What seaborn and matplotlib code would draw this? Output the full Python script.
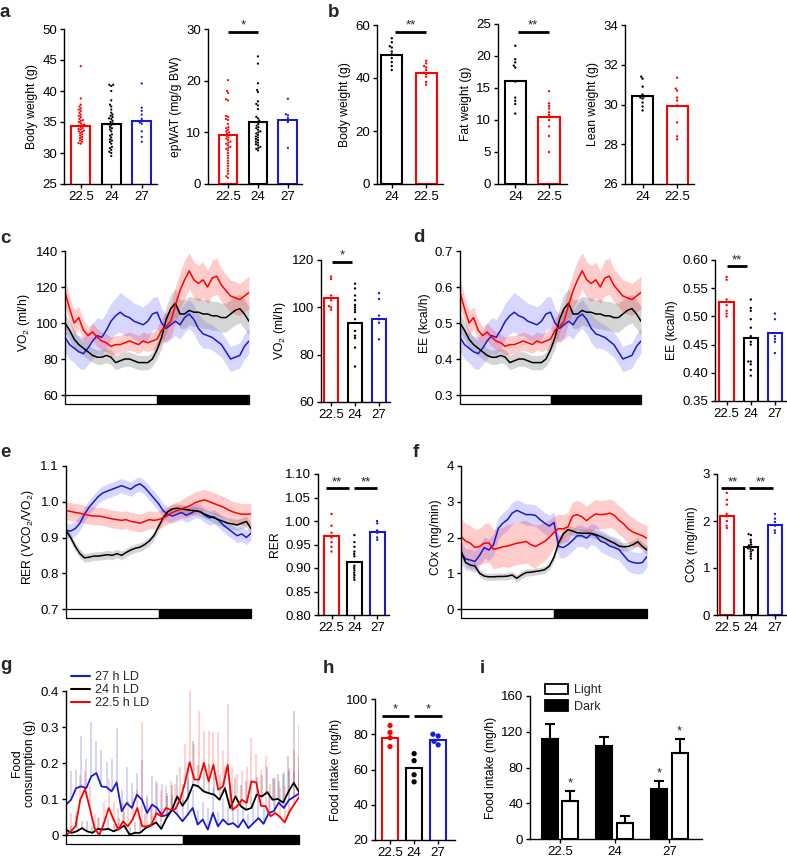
import numpy as np
import pandas as pd
import matplotlib
matplotlib.use('Agg')
import matplotlib.pyplot as plt
import seaborn as sns
from matplotlib.patches import Rectangle, Patch
from matplotlib.lines import Line2D

sns.set_theme(style='ticks')
plt.rcParams['font.family'] = ['Liberation Sans', 'DejaVu Sans']
plt.rcParams.update({'axes.linewidth': 1.0, 'xtick.major.width': 1.0, 'ytick.major.width': 1.0,
                     'xtick.major.size': 3, 'ytick.major.size': 3, 'axes.edgecolor': 'black',
                     'xtick.color': 'black', 'ytick.color': 'black', 'mathtext.default': 'regular',
                     'axes.labelcolor': 'black'})

# ---------------- data ----------------
RED = '#ff0000'; BLK = '#000000'; BLU = '#1a1ad0'
COLORS = {'22.5': RED, '24': BLK, '27': BLU}
cats3 = ['22.5', '24', '27']
cats_b = ['24', '22.5']

# a
bw_means = [34.3, 34.6, 35.1]
bw_red = [44, 38.8, 37.8, 37.5, 37.2, 37, 36.8, 36.2, 36, 35.8, 35.5, 35.2, 35, 34.8, 34.6, 34.4, 34.2, 34,
          33.8, 33.6, 33.4, 33.2, 33, 32.8, 32.6, 32.4, 32.2, 32, 31.8, 31.6, 31.5, 35.3, 34.5, 33.5, 36.5, 33.9]
bw_black = [41, 41, 40.8, 40, 38.5, 37.8, 37.5, 37, 36.5, 36.2, 36, 35.8, 35.5, 35.2, 35, 34.8, 34.5, 34.2, 34,
            33.8, 33.5, 33, 32.8, 32.5, 32.2, 32, 31.8, 31.5, 31, 30.8, 30.5, 30.2, 30, 29.5, 34.6, 35.6]
bw_blue = [41.2, 37.3, 36.8, 36.2, 35.5, 35.1, 34.9, 34.7, 33.5, 32.6, 31.8]

ep_means = [9.5, 12.0, 12.4]
ep_red = [20.1, 18, 17.6, 16.4, 16.2, 13.2, 13, 12.6, 12.4, 11.6, 11, 10.8, 10.5, 10.2, 10, 9.8, 9.5, 9.3, 9,
          8.8, 8.5, 8.2, 8, 7.8, 7.5, 7.2, 7, 6.8, 6.5, 6, 5.5, 5, 4.5, 4, 3.5, 3, 2.5, 2, 1.5, 1.2]
ep_black = [24.7, 23.3, 19.5, 18.2, 17.8, 16, 15.5, 15.2, 14.5, 13, 12.7, 12.3, 12, 11.6, 11.3, 11, 10.8, 10.5,
            10.2, 10, 9.8, 9.5, 9.2, 9, 8.7, 8.5, 8.2, 8, 7.7, 7.5, 7.2, 7, 6.8, 6.5]
ep_blue = [16.5, 13.5, 13.3, 12.8, 12, 7]

# b (order 24, 22.5)
bbw_means = [48.5, 42.0]
bbw_black = [55, 53.5, 52, 51.5, 50, 49, 47.5, 46, 44.5, 43]
bbw_red = [46.5, 45.5, 44.5, 44, 43, 42, 41.5, 40.5, 38.5, 37.5]
fat_means = [16.1, 10.4]
fat_black = [21.6, 19.5, 19, 18.5, 18.2, 16, 13.5, 13, 12.5, 11]
fat_red = [14.5, 12.6, 12.2, 11.8, 11.2, 10.8, 10, 9, 7.5, 5]
lean_means = [30.45, 29.9]
lean_black = [31.4, 31.3, 30.9, 30.5, 30.4, 30.35, 30.3, 30.1, 29.9, 29.7]
lean_red = [31.35, 30.8, 30.7, 30.35, 30.2, 29.95, 29.1, 28.4, 28.25]

# c-f bar panels
vo2_means = [104, 93.5, 95.2]
vo2_red = [113, 112, 105, 103, 100.5, 100, 99]
vo2_black = [110, 108, 105, 103, 101, 100, 99, 98, 95, 90, 88, 87, 83, 75]
vo2_blue = [106, 103.5, 96.5, 95, 93.5, 86.5]
ee_means = [0.525, 0.462, 0.470]
ee_red = [0.57, 0.565, 0.53, 0.52, 0.51, 0.505, 0.50]
ee_black = [0.53, 0.515, 0.51, 0.495, 0.48, 0.465, 0.455, 0.45, 0.42, 0.42, 0.415, 0.405, 0.395]
ee_blue = [0.505, 0.495, 0.465, 0.46, 0.455, 0.435]
rer_means = [0.968, 0.912, 0.977]
rer_red = [1.015, 0.99, 0.975, 0.965, 0.955, 0.945, 0.935]
rer_black = [0.97, 0.955, 0.945, 0.935, 0.93, 0.925, 0.905, 0.90, 0.895, 0.89, 0.885, 0.88, 0.875]
rer_blue = [1.0, 0.995, 0.98, 0.975, 0.965, 0.96]
cox_means = [2.1, 1.45, 1.92]
cox_red = [2.6, 2.45, 2.35, 2.15, 2.1, 2.0, 1.9, 1.85]
cox_black = [1.72, 1.7, 1.6, 1.55, 1.5, 1.48, 1.45, 1.42, 1.4, 1.38, 1.35, 1.3, 1.25, 1.2]
cox_blue = [2.15, 2.05, 1.98, 1.9, 1.8, 1.75]

# time series (one LD cycle)
VO2_red = [117, 108, 100, 103, 96, 93, 95, 92, 90, 89, 87, 88, 88, 89, 90, 89, 88, 90, 89, 90,
           91, 96, 98, 101, 110, 118, 124, 129, 124, 122, 124, 120, 125, 126, 121, 118, 115, 114, 113, 115, 117]
VO2_red_sem = [8, 7, 7, 6, 6, 5, 5, 5, 5, 5, 5, 5, 5, 5, 5, 5, 5, 5, 5, 5,
               6, 7, 8, 9, 10, 10, 11, 10, 10, 10, 10, 9, 10, 10, 9, 9, 9, 9, 9, 9, 9]
VO2_black = [100, 96, 91, 88, 86, 84, 82, 81, 81, 82, 81, 78, 79, 80, 80, 79, 78, 78, 78, 80,
             85, 92, 102, 108, 111, 105, 105, 107, 106, 106, 105, 105, 104, 104, 103, 103, 105, 107, 108, 105, 101]
VO2_black_sem = [5, 5, 5, 4, 4, 4, 4, 4, 4, 4, 4, 4, 4, 4, 4, 4, 4, 4, 4, 4,
                 5, 6, 7, 8, 8, 8, 8, 8, 8, 8, 8, 8, 8, 8, 8, 8, 8, 8, 8, 8, 8]
VO2_blue = [92, 88, 86, 84, 83, 86, 90, 93, 92, 96, 101, 104, 106, 104, 103, 101, 100, 99, 101, 105,
            106, 100, 97, 99, 101, 99, 103, 105, 102, 97, 94, 93, 92, 90, 88, 84, 80, 81, 82, 87, 90]
VO2_blue_sem = [8, 8, 8, 9, 9, 9, 10, 10, 10, 10, 10, 10, 11, 11, 10, 10, 10, 10, 10, 9,
                9, 8, 8, 8, 8, 8, 8, 8, 8, 8, 8, 7, 7, 7, 7, 7, 7, 7, 7, 7, 7]

EE_red = [0.585, 0.54, 0.50, 0.515, 0.48, 0.465, 0.475, 0.46, 0.45, 0.445, 0.435, 0.44, 0.44, 0.445, 0.45,
          0.445, 0.44, 0.45, 0.445, 0.45, 0.455, 0.48, 0.49, 0.505, 0.55, 0.59, 0.62, 0.645, 0.62, 0.61,
          0.62, 0.60, 0.625, 0.63, 0.605, 0.59, 0.575, 0.57, 0.565, 0.575, 0.585]
EE_red_sem = [0.04, 0.035, 0.035, 0.03, 0.03, 0.025, 0.025, 0.025, 0.025, 0.025, 0.025, 0.025, 0.025, 0.025,
              0.025, 0.025, 0.025, 0.025, 0.025, 0.025, 0.03, 0.035, 0.04, 0.045, 0.05, 0.05, 0.055, 0.05,
              0.05, 0.05, 0.05, 0.045, 0.05, 0.05, 0.045, 0.045, 0.045, 0.045, 0.045, 0.045, 0.045]
EE_black = [0.50, 0.48, 0.455, 0.44, 0.43, 0.42, 0.41, 0.405, 0.405, 0.41, 0.405, 0.39, 0.395, 0.40, 0.40,
            0.395, 0.39, 0.39, 0.39, 0.40, 0.425, 0.46, 0.51, 0.54, 0.555, 0.525, 0.525, 0.535, 0.53, 0.53,
            0.525, 0.525, 0.52, 0.52, 0.515, 0.515, 0.525, 0.535, 0.54, 0.525, 0.505]
EE_black_sem = [0.025, 0.025, 0.025, 0.02, 0.02, 0.02, 0.02, 0.02, 0.02, 0.02, 0.02, 0.02, 0.02, 0.02, 0.02,
                0.02, 0.02, 0.02, 0.02, 0.02, 0.025, 0.03, 0.035, 0.04, 0.04, 0.04, 0.04, 0.04, 0.04, 0.04,
                0.04, 0.04, 0.04, 0.04, 0.04, 0.04, 0.04, 0.04, 0.04, 0.04, 0.04]
EE_blue = [0.46, 0.44, 0.43, 0.42, 0.415, 0.43, 0.45, 0.465, 0.46, 0.48, 0.505, 0.52, 0.53, 0.52, 0.515,
           0.505, 0.50, 0.495, 0.505, 0.525, 0.53, 0.50, 0.485, 0.495, 0.505, 0.495, 0.515, 0.525, 0.51,
           0.485, 0.47, 0.465, 0.46, 0.45, 0.44, 0.42, 0.40, 0.405, 0.41, 0.435, 0.45]
EE_blue_sem = [0.04, 0.04, 0.04, 0.045, 0.045, 0.045, 0.05, 0.05, 0.05, 0.05, 0.05, 0.05, 0.055, 0.055, 0.05,
               0.05, 0.05, 0.05, 0.05, 0.045, 0.045, 0.04, 0.04, 0.04, 0.04, 0.04, 0.04, 0.04, 0.04, 0.04,
               0.04, 0.035, 0.035, 0.035, 0.035, 0.035, 0.035, 0.035, 0.035, 0.035, 0.035]

RER_red = [0.975, 0.973, 0.97, 0.968, 0.965, 0.962, 0.96, 0.96, 0.958, 0.955, 0.952, 0.95, 0.948, 0.95, 0.945,
           0.943, 0.94, 0.945, 0.95, 0.948, 0.95, 0.955, 0.962, 0.97, 0.975, 0.98, 0.985, 0.99, 0.998, 1.002,
           1.005, 1.0, 0.995, 0.99, 0.985, 0.978, 0.972, 0.968, 0.965, 0.965, 0.966]
RER_red_sem = [0.025, 0.025, 0.025, 0.025, 0.025, 0.025, 0.025, 0.025, 0.025, 0.025, 0.025, 0.025, 0.025,
               0.025, 0.025, 0.025, 0.025, 0.025, 0.025, 0.025, 0.025, 0.025, 0.025, 0.025, 0.025, 0.025,
               0.03, 0.03, 0.03, 0.03, 0.03, 0.03, 0.03, 0.03, 0.03, 0.03, 0.03, 0.03, 0.03, 0.03, 0.03]
RER_black = [0.92, 0.90, 0.875, 0.855, 0.843, 0.845, 0.848, 0.848, 0.85, 0.852, 0.85, 0.855, 0.85, 0.858, 0.865,
             0.87, 0.873, 0.88, 0.89, 0.905, 0.93, 0.955, 0.972, 0.98, 0.982, 0.98, 0.978, 0.976, 0.975, 0.972,
             0.965, 0.96, 0.955, 0.95, 0.945, 0.94, 0.938, 0.935, 0.94, 0.945, 0.925]
RER_black_sem = [0.012, 0.012, 0.012, 0.012, 0.012, 0.012, 0.012, 0.012, 0.012, 0.012, 0.012, 0.012, 0.012,
                 0.012, 0.012, 0.012, 0.012, 0.012, 0.012, 0.012, 0.012, 0.012, 0.012, 0.012, 0.012, 0.012,
                 0.012, 0.012, 0.012, 0.012, 0.012, 0.012, 0.015, 0.015, 0.015, 0.015, 0.015, 0.015, 0.015,
                 0.015, 0.015]
RER_blue = [0.92, 0.918, 0.925, 0.94, 0.965, 0.985, 1.0, 1.015, 1.025, 1.03, 1.035, 1.04, 1.045, 1.04, 1.035,
            1.045, 1.05, 1.04, 1.025, 1.01, 0.995, 0.975, 0.965, 0.96, 0.965, 0.97, 0.962, 0.968, 0.975, 0.972,
            0.962, 0.955, 0.958, 0.948, 0.935, 0.925, 0.915, 0.905, 0.91, 0.9, 0.912]
RER_blue_sem = [0.02, 0.02, 0.02, 0.02, 0.02, 0.02, 0.02, 0.02, 0.02, 0.02, 0.02, 0.02, 0.02, 0.02, 0.02,
                0.02, 0.02, 0.02, 0.02, 0.02, 0.02, 0.02, 0.02, 0.02, 0.02, 0.02, 0.02, 0.02, 0.02, 0.02,
                0.02, 0.02, 0.02, 0.02, 0.02, 0.02, 0.02, 0.02, 0.02, 0.02, 0.02]

COX_red = [2.03, 1.9, 1.84, 1.72, 1.75, 1.84, 1.85, 1.67, 1.7, 1.74, 1.76, 1.8, 1.84, 1.86, 1.89, 1.8, 1.75,
           1.82, 1.89, 2.0, 2.15, 2.25, 2.24, 2.3, 2.6, 2.64, 2.58, 2.47, 2.58, 2.66, 2.64, 2.65, 2.68, 2.62,
           2.48, 2.38, 2.24, 2.15, 2.1, 2.05, 1.98]
COX_red_sem = [0.5, 0.5, 0.5, 0.5, 0.5, 0.55, 0.55, 0.55, 0.55, 0.55, 0.6, 0.6, 0.6, 0.6, 0.6, 0.6, 0.6, 0.55,
               0.55, 0.5, 0.45, 0.4, 0.4, 0.4, 0.4, 0.4, 0.4, 0.4, 0.4, 0.4, 0.4, 0.4, 0.4, 0.4, 0.4, 0.4,
               0.4, 0.4, 0.35, 0.35, 0.35]
COX_black = [1.61, 1.3, 1.23, 1.2, 1.0, 0.92, 0.9, 0.9, 0.91, 0.91, 0.92, 0.95, 0.86, 0.95, 1.02, 1.03, 1.05,
             1.07, 1.1, 1.2, 1.45, 1.85, 2.1, 2.22, 2.18, 2.13, 2.12, 2.12, 2.12, 2.08, 2.03, 1.97, 1.9, 1.84,
             1.76, 1.74, 1.75, 1.8, 1.88, 1.75, 1.65]
COX_black_sem = [0.12, 0.12, 0.1, 0.1, 0.1, 0.1, 0.1, 0.1, 0.1, 0.1, 0.1, 0.1, 0.1, 0.1, 0.1, 0.1, 0.1, 0.1,
                 0.1, 0.1, 0.12, 0.12, 0.12, 0.12, 0.12, 0.12, 0.12, 0.12, 0.12, 0.12, 0.12, 0.12, 0.12,
                 0.12, 0.12, 0.12, 0.12, 0.12, 0.12, 0.12, 0.12]
COX_blue = [1.56, 1.4, 1.37, 1.33, 1.5, 1.72, 1.65, 1.8, 2.25, 2.4, 2.5, 2.68, 2.76, 2.7, 2.64, 2.64, 2.62, 2.5,
            2.4, 2.32, 2.42, 1.75, 1.72, 1.8, 1.92, 2.05, 2.05, 1.98, 2.1, 2.05, 1.9, 1.85, 1.76, 1.72, 1.66,
            1.5, 1.35, 1.3, 1.28, 1.3, 1.47]
COX_blue_sem = [0.3, 0.3, 0.3, 0.3, 0.3, 0.3, 0.3, 0.3, 0.3, 0.3, 0.3, 0.3, 0.3, 0.3, 0.3, 0.3, 0.3, 0.3, 0.3,
                0.3, 0.3, 0.3, 0.3, 0.3, 0.3, 0.3, 0.3, 0.3, 0.3, 0.3, 0.3, 0.3, 0.3, 0.3, 0.3, 0.3, 0.3, 0.3,
                0.3, 0.3, 0.3]

# g food consumption time course and upper SEM
food_blue = [0.084, 0.098, 0.13, 0.135, 0.13, 0.163, 0.172, 0.135, 0.133, 0.121, 0.146, 0.066, 0.089, 0.075,
             0.112, 0.098, 0.061, 0.084, 0.075, 0.052, 0.056, 0.07, 0.056, 0.038, 0.056, 0.075, 0.029, 0.043,
             0.015, 0.061, 0.024, 0.043, 0.029, 0.033, 0.021, 0.043, 0.019, 0.033, 0.047, 0.031, 0.061, 0.066,
             0.09, 0.075, 0.097, 0.106, 0.115]
food_blue_err = [0.09, 0.08, 0.05, 0.14, 0.08, 0.15, 0.09, 0.1, 0.07, 0.09, 0.15, 0.06, 0.1, 0.07, 0.06, 0.11,
                 0.05, 0.08, 0.07, 0.09, 0.06, 0.04, 0.05, 0.06, 0.1, 0.05, 0.04, 0.05, 0.06, 0.07, 0.04, 0.06,
                 0.05, 0.04, 0.06, 0.05, 0.04, 0.05, 0.07, 0.05, 0.06, 0.09, 0.06, 0.1, 0.08, 0.07, 0.06]
food_red = [0.0, 0.01, 0.024, 0.098, 0.128, 0.075, 0.019, 0.0, 0.033, 0.075, 0.043, 0.015, 0.038, 0.024, 0.043,
            0.075, 0.024, 0.024, 0.029, 0.061, 0.052, 0.075, 0.07, 0.072, 0.098, 0.144, 0.202, 0.154, 0.154,
            0.2, 0.149, 0.195, 0.126, 0.135, 0.195, 0.07, 0.08, 0.098, 0.089, 0.149, 0.146, 0.081, 0.08, 0.052,
            0.061, 0.05, 0.035, 0.065, 0.085, 0.105]
food_red_err = [0.0, 0.05, 0.04, 0.07, 0.05, 0.06, 0.04, 0.05, 0.06, 0.08, 0.05, 0.06, 0.05, 0.07, 0.06, 0.05,
                0.29, 0.08, 0.06, 0.09, 0.07, 0.06, 0.08, 0.07, 0.09, 0.11, 0.2, 0.1, 0.19, 0.09, 0.14, 0.09,
                0.16, 0.1, 0.17, 0.12, 0.09, 0.08, 0.1, 0.12, 0.08, 0.1, 0.14, 0.09, 0.1, 0.08, 0.1, 0.12, 0.15,
                0.2]
food_black = [0.015, 0.006, 0.01, 0.019, 0.01, 0.006, 0.017, 0.015, 0.017, 0.01, 0.017, 0.026, 0.001, 0.006,
              0.006, 0.019, 0.026, 0.035, 0.017, 0.047, 0.07, 0.107, 0.081, 0.103, 0.14, 0.135, 0.121, 0.116,
              0.112, 0.098, 0.13, 0.075, 0.107, 0.08, 0.07, 0.075, 0.112, 0.107, 0.119, 0.098, 0.1, 0.09, 0.12,
              0.145, 0.12]
food_black_err = [0.02, 0.02, 0.03, 0.02, 0.03, 0.02, 0.03, 0.02, 0.03, 0.02, 0.03, 0.04, 0.02, 0.03, 0.03,
                  0.04, 0.05, 0.04, 0.05, 0.06, 0.07, 0.06, 0.06, 0.08, 0.12, 0.06, 0.07, 0.08, 0.06, 0.07,
                  0.06, 0.07, 0.05, 0.06, 0.08, 0.07, 0.05, 0.06, 0.07, 0.06, 0.07, 0.08, 0.1, 0.2, 0.1]

# h
fi_means = [78, 61, 77]
fi_red = [73, 78, 81, 85]
fi_black = [53, 57, 65, 69]
fi_blue = [74, 76, 79, 80]

# i
i_groups = ['22.5', '24', '27']
i_dark = [112, 104, 56]
i_dark_err = [16.5, 9.7, 8.6]
i_light = [43, 17.5, 96.6]
i_light_err = [10.8, 8.6, 15]

# ---------------- figure ----------------
W, H = 787, 861
fig = plt.figure(figsize=(W / 100, H / 100), dpi=100)
TICK_FS = 9.5
LAB_FS = 8.7


def px_ax(x0, y0, x1, y1):
    return fig.add_axes([x0 / W, 1 - y1 / H, (x1 - x0) / W, (y1 - y0) / H])


def finish(ax):
    sns.despine(ax=ax)
    ax.tick_params(direction='out', length=3, width=1, colors='black', labelsize=TICK_FS, pad=2)


def bar_panel(ax, cats, means, dots, xlim, ylim, yticks, ylabel, yfmt=None, width=0.6, dsize=1.7):
    pal = {c: COLORS[c] for c in cats}
    dfm = pd.DataFrame({'group': cats, 'value': means})
    sns.barplot(data=dfm, x='group', y='value', hue='group', order=cats, hue_order=cats, palette=pal,
                fill=False, linewidth=1.5, width=width, legend=False, ax=ax, errorbar=None)
    rows = []
    for c, vals in zip(cats, dots):
        rows += [(c, v) for v in vals]
    dfd = pd.DataFrame(rows, columns=['group', 'value'])
    sns.swarmplot(data=dfd, x='group', y='value', hue='group', order=cats, hue_order=cats, palette=pal,
                  size=dsize, legend=False, ax=ax, linewidth=0)
    ax.set_xlim(*xlim)
    ax.set_ylim(*ylim)
    ax.set_yticks(yticks)
    if yfmt is not None:
        ax.set_yticklabels([yfmt.format(v) for v in yticks])
    ax.set_xlabel('')
    ax.set_ylabel(ylabel, fontsize=LAB_FS, labelpad=3)
    finish(ax)


def sig(ax, x0, x1, y, txt):
    ax.plot([x0, x1], [y, y], color='black', lw=2, clip_on=False, solid_capstyle='butt')
    ax.text((x0 + x1) / 2, y, txt, ha='center', va='bottom', fontsize=9.5, clip_on=False)


def ld_bar(ax, hpx=9):
    h = hpx / (ax.get_position().height * H)
    ax.add_patch(Rectangle((0, -h), 0.5, h, transform=ax.transAxes, fc='white', ec='black', lw=0.9,
                           clip_on=False))
    ax.add_patch(Rectangle((0.5, -h), 0.5, h, transform=ax.transAxes, fc='black', ec='black', lw=0.9,
                           clip_on=False))


BAND = {RED: ('#ff0000', 0.2), BLK: ('#777777', 0.3), BLU: ('#3333ff', 0.2)}


def line_panel(ax, series, ylim, yticks, ylabels, ylabel):
    for mean, sem, col in series:
        t = np.linspace(0, 1, len(mean))
        m = np.asarray(mean, float)
        s = np.asarray(sem, float)
        bc, ba = BAND[col]
        ax.fill_between(t, m - s, m + s, color=bc, alpha=ba, lw=0)
    for mean, sem, col in series:
        df = pd.DataFrame({'t': np.linspace(0, 1, len(mean)), 'v': mean})
        sns.lineplot(data=df, x='t', y='v', color=col, lw=1.1, ax=ax, estimator=None, errorbar=None)
    ax.set_xlim(0, 1)
    ax.set_ylim(*ylim)
    ax.set_yticks(yticks)
    ax.set_yticklabels(ylabels)
    ax.set_xticks([])
    ax.set_xlabel('')
    ax.set_ylabel(ylabel, fontsize=LAB_FS, labelpad=3)
    finish(ax)
    ax.spines['bottom'].set_visible(False)
    ld_bar(ax)


# ---- a ----
ax = px_ax(64, 29, 157, 184)
bar_panel(ax, cats3, bw_means, [bw_red, bw_black, bw_blue], (-0.55, 2.5), (25, 50), [25, 30, 35, 40, 45, 50],
          'Body weight (g)', width=0.63, dsize=1.6)
ax = px_ax(208, 29, 302, 184)
bar_panel(ax, cats3, ep_means, [ep_red, ep_black, ep_blue], (-0.667, 2.47), (0, 30), [0, 10, 20, 30],
          'epWAT (mg/g BW)', width=0.63, dsize=1.6)
sig(ax, 0, 1, 29.5, '*')

# ---- b ----
ax = px_ax(377, 25, 443, 184)
bar_panel(ax, cats_b, bbw_means, [bbw_black, bbw_red], (-0.43, 1.49), (0, 60), [0, 20, 40, 60],
          'Body weight (g)', width=0.61)
sig(ax, 0.1, 1.0, 57.5, '**')
ax = px_ax(498, 24, 567, 184)
bar_panel(ax, cats_b, fat_means, [fat_black, fat_red], (-0.51, 1.53), (0, 25), [0, 5, 10, 15, 20, 25],
          'Fat weight (g)', width=0.63)
sig(ax, 0.07, 1.0, 23.8, '**')
ax = px_ax(625, 25, 694, 184)
bar_panel(ax, cats_b, lean_means, [lean_black, lean_red], (-0.51, 1.49), (26, 34), [26, 28, 30, 32, 34],
          'Lean weight (g)', width=0.61)

# ---- c ----
ax = px_ax(65, 251, 249, 395)
line_panel(ax, [(VO2_blue, VO2_blue_sem, BLU), (VO2_black, VO2_black_sem, BLK), (VO2_red, VO2_red_sem, RED)],
           (60, 140), [60, 80, 100, 120, 140], ['60', '80', '100', '120', '140'], 'VO$_2$ (ml/h)')
ax = px_ax(321, 260, 390, 402)
bar_panel(ax, cats3, vo2_means, [vo2_red, vo2_black, vo2_blue], (-0.42, 2.46), (60, 120), [60, 80, 100, 120],
          'VO$_2$ (ml/h)', width=0.6)
sig(ax, 0.04, 0.875, 119.3, '*')

# ---- d ----
ax = px_ax(460, 251, 641, 395)
line_panel(ax, [(EE_blue, EE_blue_sem, BLU), (EE_black, EE_black_sem, BLK), (EE_red, EE_red_sem, RED)],
           (0.3, 0.7), [0.3, 0.4, 0.5, 0.6, 0.7], ['0.3', '0.4', '0.5', '0.6', '0.7'], 'EE (kcal/h)')
ax = px_ax(715, 260, 787, 401)
bar_panel(ax, cats3, ee_means, [ee_red, ee_black, ee_blue], (-0.48, 2.5), (0.35, 0.60),
          [0.35, 0.40, 0.45, 0.50, 0.55, 0.60], 'EE (kcal/h)', yfmt='{:.2f}', width=0.6)
sig(ax, 0.02, 0.85, 0.589, '**')

# ---- e ----
ax = px_ax(66, 466, 251, 609)
line_panel(ax, [(RER_blue, RER_blue_sem, BLU), (RER_black, RER_black_sem, BLK), (RER_red, RER_red_sem, RED)],
           (0.7, 1.1), [0.7, 0.8, 0.9, 1.0, 1.1], ['0.7', '0.8', '0.9', '1.0', '1.1'],
           'RER (VCO$_2$/VO$_2$)')
ax = px_ax(318, 474, 389, 615)
bar_panel(ax, cats3, rer_means, [rer_red, rer_black, rer_blue], (-0.59, 2.51), (0.80, 1.10),
          [0.80, 0.85, 0.90, 0.95, 1.00, 1.05, 1.10], 'RER', yfmt='{:.2f}', width=0.63)
sig(ax, -0.25, 0.75, 1.07, '**')
sig(ax, 1.0, 2.0, 1.07, '**')

# ---- f ----
ax = px_ax(461, 466, 647, 609)
line_panel(ax, [(COX_blue, COX_blue_sem, BLU), (COX_black, COX_black_sem, BLK), (COX_red, COX_red_sem, RED)],
           (0, 4), [0, 1, 2, 3, 4], ['0', '1', '2', '3', '4'], 'COx (mg/min)')
ax = px_ax(717, 474, 787, 615)
bar_panel(ax, cats3, cox_means, [cox_red, cox_black, cox_blue], (-0.41, 2.5), (0, 3), [0, 1, 2, 3],
          'COx (mg/min)', width=0.6)
sig(ax, -0.23, 0.77, 2.70, '**')
sig(ax, 0.9, 1.9, 2.70, '**')

# ---- g ----
ax = px_ax(66, 691, 299, 835)
for vals, err, col in [(food_blue, food_blue_err, BLU), (food_black, food_black_err, BLK),
                       (food_red, food_red_err, RED)]:
    t = np.linspace(0, 1, len(vals))
    v = np.asarray(vals)
    ax.vlines(t, v, v + np.asarray(err), color=col, alpha=0.2, lw=1.3)
for vals, col in [(food_blue, BLU), (food_black, BLK), (food_red, RED)]:
    df = pd.DataFrame({'t': np.linspace(0, 1, len(vals)), 'v': vals})
    sns.lineplot(data=df, x='t', y='v', color=col, lw=1.3, ax=ax, estimator=None, errorbar=None)
ax.set_xlim(0, 1)
ax.set_ylim(0, 0.4)
ax.set_yticks([0, 0.1, 0.2, 0.3, 0.4])
ax.set_yticklabels(['0', '0.1', '0.2', '0.3', '0.4'])
ax.set_xticks([])
ax.set_xlabel('')
ax.set_ylabel('Food\nconsumption (g)', fontsize=LAB_FS, labelpad=3, linespacing=1.1)
finish(ax)
ax.spines['bottom'].set_visible(False)
ld_bar(ax)
handles = [Line2D([], [], color=BLU, lw=1.5), Line2D([], [], color=BLK, lw=1.5), Line2D([], [], color=RED, lw=1.5)]
ax.legend(handles, ['27 h LD', '24 h LD', '22.5 h LD'], loc='upper left', bbox_to_anchor=(71 / W, 1 - 671 / H),
          bbox_transform=fig.transFigure, frameon=False, fontsize=9, handlelength=1.5, handletextpad=0.45,
          labelspacing=0.08, borderpad=0, borderaxespad=0)

# ---- h ----
ax = px_ax(375, 699, 455, 840)
bar_panel(ax, cats3, fi_means, [fi_red, fi_black, fi_blue], (-0.625, 2.7), (20, 100), [20, 40, 60, 80, 100],
          'Food intake (mg/h)', width=0.68, dsize=3.8)
sig(ax, -0.35, 0.8, 90.5, '*')
sig(ax, 1.0, 2.18, 90.5, '*')

# ---- i ----
ax = px_ax(530, 696, 702, 839)
df_i = pd.DataFrame({'group': i_groups + i_groups, 'period': ['Dark'] * 3 + ['Light'] * 3,
                     'value': i_dark + i_light})
sns.barplot(data=df_i, x='group', y='value', hue='period', order=i_groups, hue_order=['Dark', 'Light'],
            palette={'Dark': 'black', 'Light': 'white'}, edgecolor='black', linewidth=1.5, width=0.76, gap=0.23,
            legend=False, ax=ax, errorbar=None)
for cont, errs in zip(ax.containers, [i_dark_err, i_light_err]):
    xs = [b.get_x() + b.get_width() / 2 for b in cont]
    hs = [b.get_height() for b in cont]
    ax.errorbar(xs, hs, yerr=[np.zeros(len(errs)), errs], fmt='none', ecolor='black', elinewidth=1.5,
                capsize=3.5, capthick=1.5, zorder=1)
stars = [(1, 0), (0, 2), (1, 2)]  # (container index, group index)
for ci, gi in stars:
    b = ax.containers[ci][gi]
    e = [i_dark_err, i_light_err][ci][gi]
    ax.text(b.get_x() + b.get_width() / 2, b.get_height() + e + 2, '*', ha='center', va='bottom', fontsize=9.5)
ax.set_xlim(-0.55, 2.6)
ax.set_ylim(0, 160)
ax.set_yticks([0, 40, 80, 120, 160])
ax.set_xlabel('')
ax.set_ylabel('Food intake (mg/h)', fontsize=LAB_FS, labelpad=3)
finish(ax)
ax.legend([Patch(fc='white', ec='black', lw=1.3), Patch(fc='black', ec='black', lw=1.3)], ['Light', 'Dark'],
          loc='upper left', bbox_to_anchor=(545 / W, 1 - 684 / H), bbox_transform=fig.transFigure,
          frameon=False, fontsize=9, handlelength=1.8, handleheight=0.9, handletextpad=0.5,
          labelspacing=0.3, borderpad=0, borderaxespad=0)

# ---- panel letters ----
for lab, x, y in [('a', 0, 17), ('b', 328, 17), ('c', 0, 243), ('d', 413, 242), ('e', 0, 457), ('f', 413, 457),
                  ('g', 0, 670), ('h', 323, 673), ('i', 480, 673)]:
    fig.text(x / W, 1 - y / H, lab, fontsize=13.5, fontweight='bold', va='baseline', ha='left')

fig.savefig('out.png', dpi=100)
